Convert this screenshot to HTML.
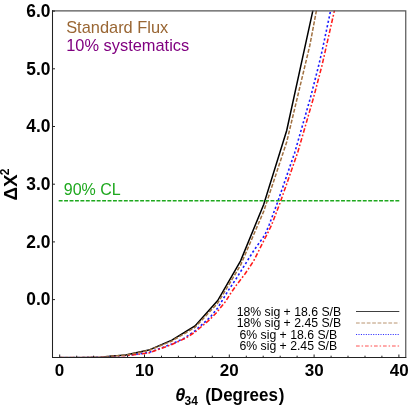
<!DOCTYPE html>
<html><head><meta charset="utf-8">
<style>
html,body{margin:0;padding:0;background:#fff;}
body{width:409px;height:409px;overflow:hidden;}
svg{display:block;will-change:transform;}
text{font-family:"Liberation Sans",sans-serif;}
.b{font-weight:bold;fill:#000;}
</style></head><body>
<svg width="409" height="409" viewBox="0 0 409 409">
<rect width="409" height="409" fill="#fff"/>
<defs><clipPath id="c"><rect x="52.5" y="10.4" width="353.5" height="346.0"/></clipPath></defs>
<!-- curves -->
<g clip-path="url(#c)" fill="none" stroke-width="1.5">
<path id="bl" stroke="#1a1aff" stroke-width="1.6" stroke-dasharray="2.2 2.3" d="M59.7 357.6 L79.5 357.5 L102.6 357.00 L125.7 355.6 L148.8 352.6 L171.9 344.0 L184.7 338 L195 330.8 L210 317.5 L217.7 308 L228 290.9 L236.6 278 L245.1 264.4 L253.7 250.7 L262.2 238.7 L264.8 235 L269.1 225 L277.3 203 L294.6 153 L310.5 97.5 L318.8 65 L322.3 50 L330.5 11.2 L334 -4"/>
<path id="rd" stroke="#ff1a1a" stroke-width="1.55" stroke-dasharray="4.6 2 1.7 2" d="M59.7 357.6 L79.5 357.5 L102.6 357.10 L125.7 355.8 L148.8 352.9 L171.9 344.5 L185.9 338 L195 332.1 L210 319.4 L216.2 313 L225.7 301.3 L230.6 293.5 L236.6 284.9 L245.1 273.8 L253.7 260.9 L262.2 243.8 L267.4 233.6 L271.6 225 L280 203 L297.7 152.5 L313.6 97.5 L322.1 65 L334.3 11.2 L338 -5"/>
<path id="k" stroke="#000" d="M59.7 357.6 L79.5 357.5 L102.6 356.90 L125.7 355.0 L148.8 350.1 L171.9 340.2 L195 326 L217.7 300.6 L240.6 260.8 L263.7 204.5 L286.7 130.5 L309.8 24.6 L312.8 10.9 L316 -4"/>
<path id="br" stroke="#a07040" stroke-dasharray="3.9 1.7" d="M59.7 357.6 L79.5 357.5 L102.6 356.92 L125.7 355.1 L148.8 350.42 L171.9 340.97 L195 327.4 L217.7 303.15 L240.6 265.14 L263.7 211.37 L286.7 142 L309.8 45.5 L316.3 11.2 L319.5 -4.7"/>
</g>
<!-- frame -->
<path d="M52 10.9 H405.75 V357.2" fill="none" stroke="#555" stroke-width="1.2"/>
<path d="M52.5 10.3 V357.45 H406.4" fill="none" stroke="#222" stroke-width="1.05"/>
<!-- ticks -->
<g stroke="#222" stroke-width="1">
<path d="M52.5 11.1h2.5M52.5 68.8h2.5M52.5 126.5h2.5M52.5 184.2h2.5M52.5 241.9h2.5M52.5 299.6h2.5"/>
<path d="M59.7 357.2v-2.7M144.5 357.2v-2.7M229.3 357.2v-2.7M314.1 357.2v-2.7M398.9 357.2v-2.7"/>
<path d="M76.7 357.2v-1.5M93.6 357.2v-1.5M110.6 357.2v-1.5M127.5 357.2v-1.5M161.5 357.2v-1.5M178.4 357.2v-1.5M195.4 357.2v-1.5M212.3 357.2v-1.5M246.3 357.2v-1.5M263.2 357.2v-1.5M280.2 357.2v-1.5M297.1 357.2v-1.5M331.1 357.2v-1.5M348 357.2v-1.5M365 357.2v-1.5M381.9 357.2v-1.5"/>
</g>
<!-- 90% CL -->
<path d="M58.7 200.8 H399.6" stroke="#1ea81e" stroke-width="1.6" stroke-dasharray="3.9 1.53" fill="none"/>
<text x="63.8" y="195.4" font-size="16" fill="#1ea81e">90% CL</text>
<!-- titles -->
<text x="66.2" y="33.4" font-size="16.4" fill="#996633">Standard Flux</text>
<text x="66.2" y="51.4" font-size="16.4" fill="#800080">10% systematics</text>
<!-- y tick labels -->
<g class="b" font-size="17.4" text-anchor="end">
<text transform="translate(50.5 16.8) scale(1 1.02)">6.0</text>
<text transform="translate(50.5 74.5) scale(1 1.02)">5.0</text>
<text transform="translate(50.5 132.2) scale(1 1.02)">4.0</text>
<text transform="translate(50.5 189.9) scale(1 1.02)">3.0</text>
<text transform="translate(50.5 247.6) scale(1 1.02)">2.0</text>
<text transform="translate(50.5 305.3) scale(1 1.02)">0.0</text>
</g>
<g class="b" font-size="17" text-anchor="middle">
<text transform="translate(59.4 376.2) scale(1 1.0)">0</text>
<text transform="translate(144.5 376.2) scale(1 1.0)">10</text>
<text transform="translate(229.3 376.2) scale(1 1.0)">20</text>
<text transform="translate(314.2 376.2) scale(1 1.0)">30</text>
<text transform="translate(399.3 376.2) scale(1 1.0)">40</text>
</g>
<!-- x label -->
<g class="b">
<text font-size="18" font-style="italic" transform="translate(175.3 401.3) scale(1 1.04)">θ</text>
<text font-size="12" transform="translate(184.5 404.5) scale(1 1.04)">34</text>
<text font-size="17" transform="translate(205.2 401.3) scale(1 1.08)">(Degrees<tspan dx="0.9">)</tspan></text>
</g>
<!-- y label -->
<g class="b">
<text font-size="18.9" transform="translate(16.5 200.6) rotate(-90) scale(1 0.98)">ΔX</text>
<text font-size="12" transform="translate(8.6 175.3) rotate(-90)">2</text>
</g>
<!-- legend -->
<g font-size="12.25" text-anchor="middle" fill="#000">
<text x="288.9" y="315.7">18% sig + 18.6 S/B</text>
<text x="288.9" y="327.2">18% sig + 2.45 S/B</text>
<text x="288.3" y="338.7">6% sig + 18.6 S/B</text>
<text x="288.3" y="350.2">6% sig + 2.45 S/B</text>
</g>
<g fill="none" stroke-width="0.75">
<path d="M356 311.5 H399.3" stroke="#000"/>
<path d="M356 323 H399.3" stroke="#a07040" stroke-dasharray="3.7 1.7"/>
<path d="M356 334.5 H399.3" stroke="#1a1aff" stroke-width="0.9" stroke-dasharray="1.1 1.35"/>
<path d="M356 346 H399.3" stroke="#ff1a1a" stroke-dasharray="3.7 1.9 1.5 1.9"/>
</g>
</svg>
</body></html>
